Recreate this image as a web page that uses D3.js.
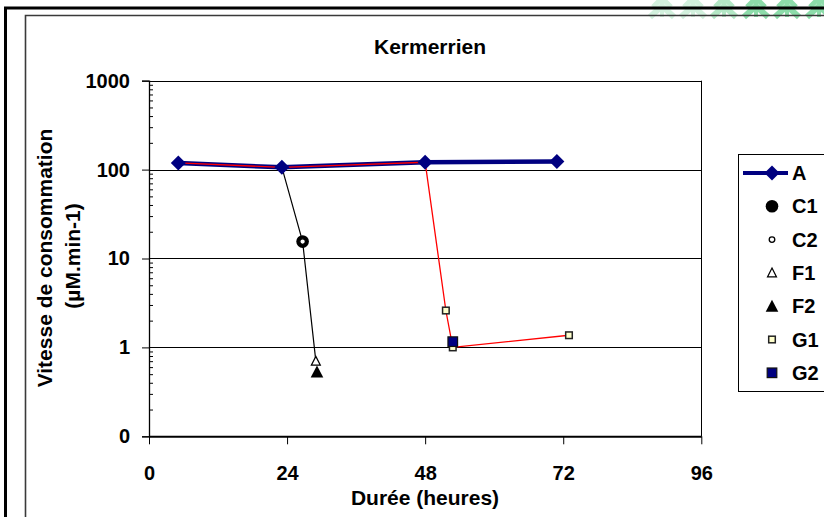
<!DOCTYPE html>
<html>
<head>
<meta charset="utf-8">
<script src="https://cdnjs.cloudflare.com/ajax/libs/d3/7.8.5/d3.min.js"></script>
<style>
  body { margin: 0; background: #fff; }
  svg text { font-family: "Liberation Sans", Arial, sans-serif; font-weight: bold; fill: #000; }
</style>
</head>
<body>
<svg id="chart" width="824" height="517"></svg>
<script>
// hours / rate values (log y axis)
var hoursA = [5.1, 23.1, 48.0, 70.9];
var valuesA = [119, 106, 121, 123];
var hoursC = [26.7];
var valuesC1 = [15.5];
var valuesC2 = [15.5];
var hoursF1 = [29.0];
var valuesF1 = [0.70];
var hoursF2 = [29.2];
var valuesF2 = [0.53];
var hoursG1 = [51.6, 52.8, 73.0];
var valuesG1 = [2.6, 1.0, 1.37];
var hoursG2 = [52.8];
var valuesG2 = [1.16];

var xTicks = [0, 24, 48, 72, 96];
var yTicks = [0.1, 1, 10, 100, 1000];
var legendNames = ["A", "C1", "C2", "F1", "F2", "G1", "G2"];

function pairs(hs, vs){
    return hs.map(function(h, i){ return [h, vs[i]]; });
}

var svg = d3.select("#chart");

//green decoration peeking in at the top right
var deco = svg.append("g");
[662, 693, 724, 756, 787, 819].forEach(function(cx, i){
    var col = i < 2 ? "#d3f1de" : (i < 3 ? "#b4e8c6" : "#8ddcaa");
    deco.append("path")
        .attr("d", "M" + (cx - 12) + ",17 L" + cx + ",6 L" + (cx + 12) + ",17")
        .attr("fill", "none").attr("stroke", col).attr("stroke-width", 6);
    deco.append("path")
        .attr("d", "M" + (cx - 9) + ",7 L" + cx + ",-2 L" + (cx + 9) + ",7")
        .attr("fill", "none").attr("stroke", col).attr("stroke-width", 5);
    deco.append("line").attr("x1", cx).attr("x2", cx).attr("y1", 0).attr("y2", 17)
        .attr("stroke", col).attr("stroke-width", 4);
});

//frames
svg.append("line").attr("x1", 4).attr("x2", 824).attr("y1", 8).attr("y2", 8)
    .attr("stroke", "#000").attr("stroke-width", 3);
svg.append("line").attr("x1", 5.5).attr("x2", 5.5).attr("y1", 7).attr("y2", 517)
    .attr("stroke", "#000").attr("stroke-width", 3);
svg.append("path").attr("d", "M25.5,517 L25.5,15.5 L824,15.5")
    .attr("fill", "none").attr("stroke", "#3a3a3a").attr("stroke-width", 1.6);

var x = d3.scaleLinear().domain([0, 96]).range([149, 701.3]);
var y = d3.scaleLog().domain([0.1, 1000]).range([436.3, 80.7]);

//gridlines
svg.append("g").selectAll("line").data(yTicks.slice(1)).join("line")
    .attr("x1", x(0)).attr("x2", x(96))
    .attr("y1", function(d){ return Math.round(y(d)) + 0.5; })
    .attr("y2", function(d){ return Math.round(y(d)) + 0.5; })
    .attr("stroke", "#000").attr("stroke-width", 1);
//plot area border, right side
svg.append("line").attr("x1", Math.round(x(96)) + 0.5).attr("x2", Math.round(x(96)) + 0.5)
    .attr("y1", y(1000)).attr("y2", y(0.1)).attr("stroke", "#000");

//minor ticks on log axis
var minors = [];
[0.1, 1, 10, 100].forEach(function(dec){
    for (var k = 2; k <= 9; k++) minors.push(dec * k);
});
svg.append("g").attr("transform", "translate(" + x(0) + ",0)")
    .call(d3.axisLeft(y).tickValues(minors).tickSize(-4).tickFormat(""))
    .call(function(g){ g.select(".domain").remove(); });

var yAxis = svg.append("g").attr("transform", "translate(" + x(0) + ",0)")
    .call(d3.axisLeft(y).tickValues(yTicks).tickSize(7).tickPadding(12)
        .tickFormat(function(d){ return d < 1 ? "0" : d3.format("d")(d); }));
yAxis.selectAll("text").style("font-size", "20px");
yAxis.select(".domain").attr("stroke-width", 1.3);

var xAxis = svg.append("g").attr("transform", "translate(0," + y(0.1) + ")")
    .call(d3.axisBottom(x).tickValues(xTicks).tickSize(8).tickPadding(22).tickSizeOuter(0));
xAxis.selectAll("text").style("font-size", "20px");
xAxis.select(".domain").attr("stroke-width", 2);

//titles
svg.append("text").attr("x", 430).attr("y", 54).attr("text-anchor", "middle")
    .style("font-size", "21px").text("Kermerrien");
svg.append("text").attr("x", 425).attr("y", 505).attr("text-anchor", "middle")
    .style("font-size", "21px").text("Durée (heures)");
svg.append("text").attr("transform", "translate(52,258) rotate(-90)").attr("text-anchor", "middle")
    .style("font-size", "21px").text("Vitesse de consommation");
svg.append("text").attr("transform", "translate(80,256) rotate(-90)").attr("text-anchor", "middle")
    .style("font-size", "21px").text("(µM.min-1)");

var line = d3.line().x(function(d){ return x(d[0]); }).y(function(d){ return y(d[1]); });
var ptsA = pairs(hoursA, valuesA);

//series A thick navy
svg.append("path").datum(ptsA).attr("d", line)
    .attr("fill", "none").attr("stroke", "#000080").attr("stroke-width", 4.5);

//black connector A -> C -> F1
svg.append("path").datum([ptsA[1]].concat(pairs(hoursC, valuesC1), pairs(hoursF1, valuesF1))).attr("d", line)
    .attr("fill", "none").attr("stroke", "#000").attr("stroke-width", 1.2);

//red connector A -> G1
svg.append("path").datum(ptsA.slice(0, 3).concat(pairs(hoursG1, valuesG1))).attr("d", line)
    .attr("fill", "none").attr("stroke", "#ff0000").attr("stroke-width", 1.3);

function drawMarker(g, type, cx, cy){
    if (type == "A"){
        g.append("path").attr("d", "M0,-7.5 L7.5,0 L0,7.5 L-7.5,0 Z")
            .attr("transform", "translate(" + cx + "," + cy + ")").attr("fill", "#000080");
    }
    else if (type == "C1"){
        g.append("circle").attr("cx", cx).attr("cy", cy).attr("r", 6.3).attr("fill", "#000");
    }
    else if (type == "C2"){
        g.append("circle").attr("cx", cx).attr("cy", cy).attr("r", 2.8)
            .attr("fill", "#fff").attr("stroke", "#000").attr("stroke-width", 1.3);
    }
    else if (type == "F1"){
        g.append("path").attr("d", "M0,-4.8 L4.5,4 L-4.5,4 Z")
            .attr("transform", "translate(" + cx + "," + cy + ")")
            .attr("fill", "#fff").attr("stroke", "#000").attr("stroke-width", 1.2);
    }
    else if (type == "F2"){
        g.append("path").attr("d", "M0,-6.5 L6.3,5.5 L-6.3,5.5 Z")
            .attr("transform", "translate(" + cx + "," + cy + ")").attr("fill", "#000");
    }
    else if (type == "G1"){
        g.append("rect").attr("x", cx - 3.3).attr("y", cy - 3.3).attr("width", 6.6).attr("height", 6.6)
            .attr("fill", "#ffffcc").attr("stroke", "#222").attr("stroke-width", 1.5);
    }
    else if (type == "G2"){
        g.append("rect").attr("x", cx - 4.8).attr("y", cy - 4.8).attr("width", 9.6).attr("height", 9.6)
            .attr("fill", "#000080").attr("stroke", "#111").attr("stroke-width", 1.2);
    }
}

var marks = svg.append("g");
pairs(hoursG1, valuesG1).forEach(function(p){ drawMarker(marks, "G1", x(p[0]), y(p[1])); });
pairs(hoursG2, valuesG2).forEach(function(p){ drawMarker(marks, "G2", x(p[0]), y(p[1])); });
ptsA.forEach(function(p){ drawMarker(marks, "A", x(p[0]), y(p[1])); });
pairs(hoursC, valuesC1).forEach(function(p){ drawMarker(marks, "C1", x(p[0]), y(p[1])); });
pairs(hoursC, valuesC2).forEach(function(p){ drawMarker(marks, "C2", x(p[0]), y(p[1])); });
pairs(hoursF1, valuesF1).forEach(function(p){ drawMarker(marks, "F1", x(p[0]), y(p[1])); });
pairs(hoursF2, valuesF2).forEach(function(p){ drawMarker(marks, "F2", x(p[0]), y(p[1])); });

//legend
var leg = svg.append("g");
leg.append("rect").attr("x", 738.5).attr("y", 154.5).attr("width", 100).attr("height", 237)
    .attr("fill", "#fff").attr("stroke", "#000").attr("stroke-width", 1);
legendNames.forEach(function(name, i){
    var ly = 173 + i * 33.3;
    if (name == "A"){
        leg.append("line").attr("x1", 743).attr("x2", 788).attr("y1", ly).attr("y2", ly)
            .attr("stroke", "#000080").attr("stroke-width", 4);
    }
    drawMarker(leg, name, 772, ly);
    leg.append("text").attr("x", 792).attr("y", ly + 7).style("font-size", "20px").text(name);
});
</script>
</body>
</html>
